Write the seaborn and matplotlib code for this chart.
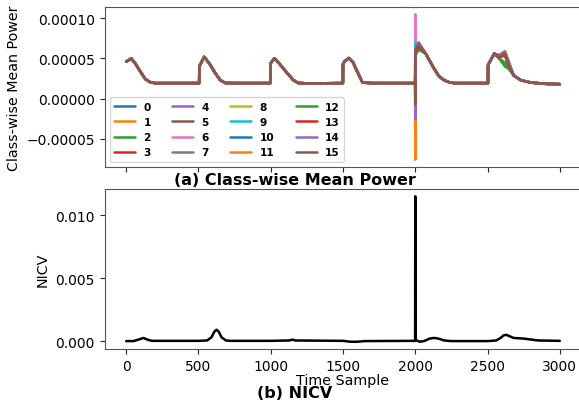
import numpy as np
import pandas as pd
import matplotlib
matplotlib.use("Agg")
import matplotlib.pyplot as plt
import matplotlib.ticker as mticker
import seaborn as sns

# ---------------------------------------------------------------------------
# values (class-wise mean power in units of 1e-5)
# ---------------------------------------------------------------------------
classes = [str(i) for i in range(16)]

# part shared by all classes, samples 0 .. 1999
t_common = [0, 35, 62, 97, 132, 166, 200, 400, 505,
            506, 540, 582, 615, 651, 686, 750, 997,
            998, 1026, 1067, 1113, 1157, 1190, 1250, 1499,
            1500, 1510, 1540, 1570, 1600, 1635, 1700, 1999]
p_common = [4.6, 5.0, 4.4, 3.4, 2.45, 2.05, 1.93, 1.93, 1.93,
            4.0, 5.2, 4.2, 3.2, 2.3, 1.95, 1.93, 1.93,
            4.4, 5.0, 4.2, 3.2, 2.3, 1.95, 1.9, 1.93,
            4.3, 4.6, 5.05, 4.5, 3.3, 2.0, 1.93, 1.93]

# the glitch at sample 2000, one value per class
spike_2000 = [2.5, -3.0, 4.0, 1.0, 3.5, 5.0, 10.5, 2.0,
              4.5, 7.0, 3.0, -7.6, 5.5, 0.5, -2.5, -0.7]
# right after the glitch (samples 2001 and 2023)
post_2001 = [5.8, 6.0, 5.5, 5.9, 6.2, 5.7, 6.1, 5.6,
             5.5, 6.4, 6.0, 5.9, 5.4, 5.8, 6.3, 6.0]
post_2023 = [6.6, 6.7, 6.2, 6.5, 7.0, 6.6, 6.7, 6.5,
             6.3, 6.9, 6.8, 6.7, 6.1, 6.5, 7.0, 6.8]
t_decay = [2072, 2128, 2163, 2200, 2233, 2270, 2503,
           2504, 2546]
p_decay = [5.6, 3.8, 2.8, 2.3, 2.05, 1.93, 1.93,
           4.2, 5.6]
# last bump, per class (samples 2580, 2620, 2647)
bump_2580 = [5.3, 5.3, 5.0, 5.2, 5.4, 5.2, 5.3, 5.2,
             5.1, 5.3, 5.4, 5.3, 5.0, 5.1, 5.4, 5.2]
bump_2620 = [5.7, 5.8, 4.5, 5.5, 5.8, 5.6, 5.7, 5.5,
             5.5, 5.7, 5.9, 5.9, 4.0, 5.4, 5.8, 5.6]
bump_2647 = [4.4, 4.5, 3.8, 4.2, 4.5, 4.3, 4.4, 4.2,
             4.2, 4.4, 4.6, 4.5, 3.7, 4.0, 4.5, 4.2]
t_tail = [2680, 2730, 2800, 2900, 3000]
p_tail = [2.9, 2.3, 2.0, 1.85, 1.8]

# NICV trace (units of 1e-3)
t_nicv = [0, 50, 80, 120, 150, 180, 250, 500, 560, 590, 610, 625, 640,
          660, 690, 720, 1000, 1130, 1150, 1170, 1500, 1550, 1600, 1650,
          1999, 2000, 2001, 2030, 2060, 2100, 2130, 2160, 2200, 2250,
          2500, 2560, 2590, 2610, 2630, 2650, 2680, 2750, 2850, 3000]
nicv = [0.0, 0.0, 0.1, 0.25, 0.1, 0.02, 0.02, 0.02, 0.05, 0.3, 0.75, 0.9,
        0.75, 0.3, 0.05, 0.02, 0.02, 0.05, 0.12, 0.05, 0.02, -0.05, -0.05,
        0.0, 0.02, 11.5, 0.1, -0.05, 0.0, 0.2, 0.25, 0.2, 0.05, 0.0,
        0.0, 0.05, 0.25, 0.45, 0.5, 0.4, 0.25, 0.2, 0.05, 0.02]

# build long table for seaborn
rows = []
for i, c in enumerate(classes):
    t = t_common + [2000, 2001, 2023] + t_decay + [2580, 2620, 2647] + t_tail
    p = (p_common + [spike_2000[i], post_2001[i], post_2023[i]] + p_decay
         + [bump_2580[i], bump_2620[i], bump_2647[i]] + p_tail)
    for tt, pp in zip(t, p):
        rows.append((c, tt, pp * 1e-5))
power_df = pd.DataFrame(rows, columns=["Class", "Time", "Power"])
nicv_df = pd.DataFrame({"Time": t_nicv, "NICV": np.array(nicv) * 1e-3})


def fmt(decimals):
    # unicode minus like matplotlib's default formatter
    return mticker.FuncFormatter(
        lambda v, pos: f"{v:.{decimals}f}".replace("-", "\u2212"))


# ---------------------------------------------------------------------------
sns.set_style("ticks")
plt.rcParams["font.family"] = ["DejaVu Sans"]
plt.rcParams["xtick.labelsize"] = 10
plt.rcParams["ytick.labelsize"] = 10
plt.rcParams["axes.labelsize"] = 10.3
plt.rcParams["text.color"] = "black"
plt.rcParams["axes.labelcolor"] = "black"
plt.rcParams["xtick.labelcolor"] = "black"
plt.rcParams["ytick.labelcolor"] = "black"

fig = plt.figure(figsize=(5.79, 4.02), dpi=100)
ax1 = fig.add_axes([104.5 / 579, 1 - 168 / 402, 477 / 579, 160 / 402])
ax2 = fig.add_axes([104.5 / 579, 1 - 350 / 402, 477 / 579, 160 / 402], sharex=ax1)

palette = sns.color_palette("tab10", 16)
sns.lineplot(data=power_df, x="Time", y="Power", hue="Class", hue_order=classes,
             palette=palette, linewidth=1.8, ax=ax1, sort=True)
handles, labels = ax1.get_legend_handles_labels()
ax1.legend(handles, labels, ncol=4, loc="lower left",
           prop={"weight": "bold", "size": 7.6}, framealpha=0.8)
ax1.set_xlabel("")
ax1.set_ylabel("Class-wise Mean Power")
ax1.yaxis.set_major_formatter(fmt(5))
ax1.yaxis.set_major_locator(mticker.MultipleLocator(0.00005))
ax1.tick_params(axis="x", labelbottom=False)

sns.lineplot(data=nicv_df, x="Time", y="NICV", color="black", linewidth=1.8, ax=ax2)
ax2.set_xlabel("Time Sample", labelpad=0)
ax2.set_ylabel("NICV")
ax2.yaxis.set_major_formatter(fmt(3))
ax2.yaxis.set_major_locator(mticker.MultipleLocator(0.005))
ax2.set_xticks([0, 500, 1000, 1500, 2000, 2500, 3000])
ax2.set_xlim(-150, 3150)

for ax in (ax1, ax2):
    for s in ax.spines.values():
        s.set_color("#555555")

fig.text(295 / 579, 1 - 181 / 402, "(a) Class-wise Mean Power",
         ha="center", va="center", fontsize=11.5, fontweight="bold")
fig.text(295 / 579, 1 - 394 / 402, "(b) NICV",
         ha="center", va="center", fontsize=11.5, fontweight="bold")

fig.savefig("out.png", dpi=100)
